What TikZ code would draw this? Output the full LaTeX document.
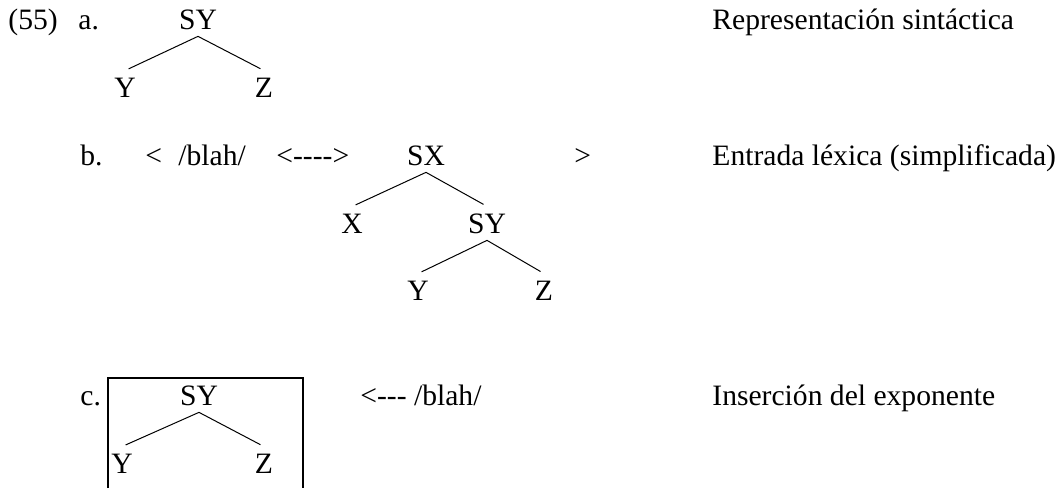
\documentclass[tikz,border=0pt]{standalone}
\usepackage{fontspec}
\setmainfont{Liberation Serif}
\usetikzlibrary{positioning}

\tikzset{
  lbl/.style={anchor=base west, inner sep=0pt},
  cat/.style={anchor=base},
  branch/.style={line width=0.5pt, shorten >=2}
}

\begin{document}
\begin{tikzpicture}[x=0.5pt, y=-0.5pt, font=\fontsize{14.8}{18}\selectfont]
  \useasboundingbox (0,0) rectangle (1058,488);

  % Nodes
  \node[lbl] (n55) at (8,29) {(55)};
  \node[lbl] (la) at (78,29) {a.};
  \node[cat] (aSY) at (198,29) {SY};
  \node[cat] (aY) at (125,97) {Y};
  \node[cat] (aZ) at (264,97) {Z};
  \node[lbl] (ra) at (712,29) {Representación sintáctica};

  \node[lbl] (lb) at (80,165) {b.};
  \node[lbl] (lt) at (145,165) {<};
  \node[lbl] (blah) at (178,165) {/blah/};
  \node[lbl] (arr) at (276,165) {<{-}{-}{-}{-}>};
  \node[cat] (bSX) at (426,165) {SX};
  \node[cat] (bX) at (352,233) {X};
  \node[cat] (bSY) at (487,233) {SY};
  \node[cat] (bY) at (418,300) {Y};
  \node[cat] (bZ) at (544,300) {Z};
  \node[lbl] (gt) at (574,165) {>};
  \node[lbl] (rb) at (712,165) {Entrada léxica (simplificada)};

  \node[lbl] (lc) at (80,405) {c.};
  \node[cat] (cSY) at (199,405) {SY};
  \node[cat] (cY) at (122,473) {Y};
  \node[cat] (cZ) at (264,473) {Z};
  \node[lbl] (ins) at (360,405) {<{-}{-}{-} /blah/};
  \node[lbl] (rc) at (712,405) {Inserción del exponente};

  % Branches
  \draw[branch] (aSY.south) -- (aY.north);
  \draw[branch] (aSY.south) -- (aZ.north);
  \draw[branch] (bSX.south) -- (bX.north);
  \draw[branch] (bSX.south) -- (bSY.north);
  \draw[branch] (bSY.south) -- (bY.north);
  \draw[branch] (bSY.south) -- (bZ.north);
  \draw[branch] (cSY.south) -- (cY.north);
  \draw[branch] (cSY.south) -- (cZ.north);

  % Box
  \draw[line width=0.8pt] (108,488) -- (108,378) -- (303,378) -- (303,488);
\end{tikzpicture}
\end{document}
